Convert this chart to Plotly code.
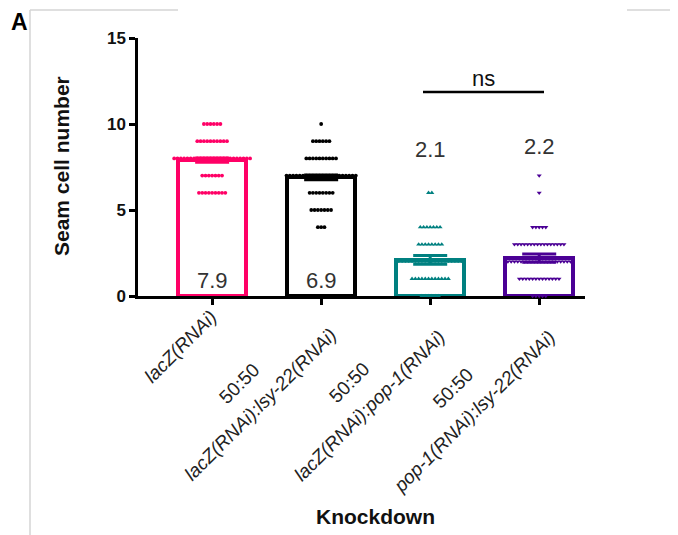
import plotly.graph_objects as go

# ---------------- data ----------------
categories = ["lacZ(RNAi)", "50:50 lacZ(RNAi):lsy-22(RNAi)",
              "50:50 lacZ(RNAi):pop-1(RNAi)", "50:50 pop-1(RNAi):lsy-22(RNAi)"]
tick_top = ["", "50:50", "50:50", "50:50"]
tick_main = ["lacZ(RNAi)", "lacZ(RNAi):lsy-22(RNAi)",
             "lacZ(RNAi):pop-1(RNAi)", "pop-1(RNAi):lsy-22(RNAi)"]
means = [7.9, 6.9, 2.1, 2.2]
sems = [0.12, 0.14, 0.25, 0.24]
mean_labels = ["7.9", "6.9", "2.1", "2.2"]

# seam cell counts (value levels) and number of animals at each level
levels_lacz = [10, 9, 8, 7, 6]
counts_lacz = [6, 10, 24, 7, 9]
levels_lacz_lsy = [10, 9, 8, 7, 6, 5, 4]
counts_lacz_lsy = [1, 6, 10, 22, 8, 7, 3]
levels_lacz_pop = [6, 4, 3, 2, 1, 0]
counts_lacz_pop = [2, 7, 8, 21, 12, 6]
levels_pop_lsy = [7, 6, 4, 3, 2, 1, 0]
counts_pop_lsy = [1, 1, 5, 16, 20, 13, 5]

sig_text = "ns"
y_ticks = [0, 5, 10, 15]

# ---------------- style ----------------
colors = ["#ff0066", "#000000", "#008080", "#4b0095"]
symbols = ["circle", "circle", "triangle-up", "triangle-down"]
msizes = [3.8, 3.8, 4.4, 4.4]
FONT = "Arial, Liberation Sans, sans-serif"

OFF = 8  # page body margin
W, H = 678 - OFF, 535 - OFF
L = 138 - OFF
T = 38 - OFF
B = H - (296 - OFF)
R = W - (585 - OFF)
X0, X1 = -0.68, 3.42
pw = W - L - R
ph = H - T - B
dx_unit = pw / (X1 - X0)


def xd(px):
    return X0 + (px - OFF - L) / dx_unit


def yp(py):
    return (H - B - (py - OFF)) / ph


def xp(px):
    return (px - OFF - L) / pw


swarm = [(levels_lacz, counts_lacz), (levels_lacz_lsy, counts_lacz_lsy),
         (levels_lacz_pop, counts_lacz_pop), (levels_pop_lsy, counts_pop_lsy)]

fig = go.Figure()

for i in range(4):
    fig.add_trace(go.Bar(
        x=[i], y=[means[i]], width=0.62,
        marker=dict(color="white", line=dict(color=colors[i], width=4)),
        error_y=dict(type="data", array=[sems[i]], color=colors[i],
                     thickness=3, width=17),
        showlegend=False, hoverinfo="skip"))

spacing = 3.3 / dx_unit
for i, (lv, ct) in enumerate(swarm):
    xs, ys = [], []
    for v, n in zip(lv, ct):
        for k in range(n):
            xs.append(i + (k - (n - 1) / 2) * spacing)
            ys.append(v)
    fig.add_trace(go.Scatter(
        x=xs, y=ys, mode="markers", cliponaxis=False,
        marker=dict(symbol=symbols[i], size=msizes[i], color=colors[i],
                    line=dict(width=0)),
        showlegend=False, hoverinfo="skip"))

annotations = []
# mean labels
mean_label_y = [0.93, 0.9, 8.52, 8.69]
for i in range(4):
    annotations.append(dict(x=i, y=mean_label_y[i], xref="x", yref="y",
                            text=mean_labels[i], showarrow=False,
                            xanchor="center", yanchor="middle",
                            font=dict(family=FONT, size=22, color="#333333")))

# rotated category labels (reference pixel centres of each line)
main_centres = [(180.5, 346.5), (260.5, 405), (370, 406), (474, 411)]
top_centres = [None, (239, 383), (349, 382), (452.5, 388)]
for i in range(4):
    cx, cy = main_centres[i]
    annotations.append(dict(x=xd(cx), y=yp(cy), xref="x", yref="paper",
                            text="<i>" + tick_main[i] + "</i>", showarrow=False,
                            textangle=-45, xanchor="center", yanchor="middle",
                            font=dict(family=FONT, size=19, color="#222222")))
    if tick_top[i]:
        tx, ty = top_centres[i]
        annotations.append(dict(x=xd(tx), y=yp(ty), xref="x", yref="paper",
                                text=tick_top[i], showarrow=False,
                                textangle=-45, xanchor="center", yanchor="middle",
                                font=dict(family=FONT, size=19, color="#222222")))

# significance label
annotations.append(dict(x=xd(483), y=yp(78), xref="x", yref="paper",
                        text=sig_text, showarrow=False,
                        xanchor="center", yanchor="middle",
                        font=dict(family=FONT, size=22, color="#111111")))

# axis titles and panel letter
annotations.append(dict(x=xp(375), y=yp(516), xref="paper", yref="paper",
                        text="<b>Knockdown</b>", showarrow=False,
                        xanchor="center", yanchor="middle",
                        font=dict(family=FONT, size=21, color="#111111")))
annotations.append(dict(x=xp(61), y=yp(166), xref="paper", yref="paper",
                        text="<b>Seam cell number</b>", showarrow=False,
                        textangle=-90, xanchor="center", yanchor="middle",
                        font=dict(family=FONT, size=21, color="#111111")))
annotations.append(dict(x=xp(10), y=yp(OFF), xref="paper", yref="paper",
                        text="<b>A</b>", showarrow=False,
                        xanchor="left", yanchor="top", borderpad=0,
                        font=dict(family=FONT, size=23, color="#000000")))

shapes = [
    # ns bracket
    dict(type="line", xref="x", yref="paper", x0=xd(423), x1=xd(544),
         y0=yp(92), y1=yp(92), line=dict(color="black", width=2.5)),
    # figure crop frame lines
    dict(type="line", xref="paper", yref="paper", x0=xp(30), x1=xp(178),
         y0=yp(10), y1=yp(10), line=dict(color="#d4d4d4", width=1.5)),
    dict(type="line", xref="paper", yref="paper", x0=xp(30), x1=xp(30),
         y0=yp(10), y1=yp(535), line=dict(color="#d4d4d4", width=1.5)),
    dict(type="line", xref="paper", yref="paper", x0=xp(627), x1=xp(678),
         y0=yp(10), y1=yp(10), line=dict(color="#d4d4d4", width=1.5)),
]

fig.update_layout(
    width=W, height=H,
    margin=dict(l=L, r=R, t=T, b=B, pad=0),
    paper_bgcolor="white", plot_bgcolor="white",
    bargap=0, barmode="overlay",
    annotations=annotations, shapes=shapes,
    xaxis=dict(range=[X0, X1], tickvals=[0, 1, 2, 3], showticklabels=False,
               ticks="outside", ticklen=6, tickwidth=2.5, tickcolor="black",
               showline=True, linecolor="black", linewidth=2.5,
               showgrid=False, zeroline=False, fixedrange=True,
               layer="below traces"),
    yaxis=dict(range=[0, 15], tickvals=y_ticks, ticks="outside", ticklen=6,
               tickwidth=2.5, tickcolor="black", showline=True,
               linecolor="black", linewidth=2.5, showgrid=False,
               zeroline=False, fixedrange=True,
               tickfont=dict(family=FONT, size=17, color="#111111",
                             weight="bold")),
)

fig.write_html("out.html")
